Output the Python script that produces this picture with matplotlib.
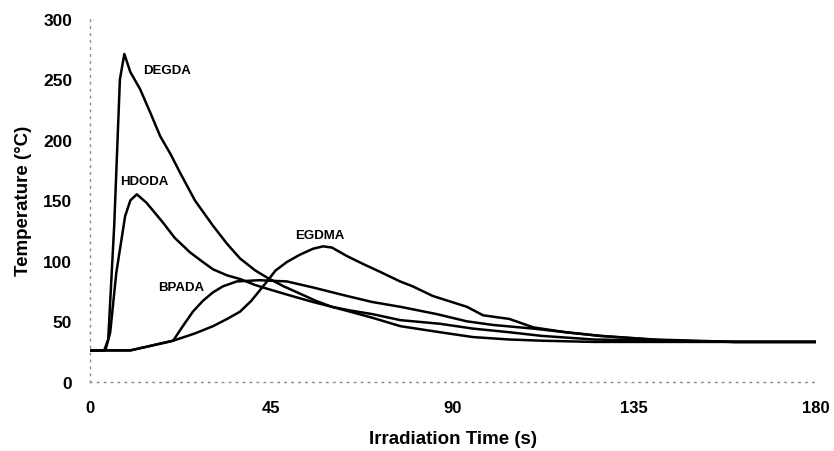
import matplotlib
matplotlib.use("Agg")
import matplotlib.pyplot as plt

plt.rcParams['font.family'] = ['Liberation Sans', 'DejaVu Sans']

# Data
degda_t = [0, 3.5, 4.5, 6, 7.4, 8.5, 10, 12.4, 15, 17.4, 20, 22.3, 26, 30.5, 34, 37.2, 41, 44, 48, 52, 56, 60, 64.5, 70, 77, 86.8, 95, 104, 112, 125, 140, 160, 180]
degda_T = [26, 26, 35, 130, 250, 271, 256, 242, 222, 203, 188, 173, 150, 129, 114, 102, 92, 86, 79, 73, 67, 62, 58, 53, 46, 41, 37, 35, 34, 33, 33, 33, 33]

hdoda_t = [0, 3.8, 5, 6.5, 8.7, 10, 11.6, 14, 18, 21, 24.8, 28, 30.5, 34, 37.2, 41, 43.9, 50, 55.3, 60, 64.5, 70, 77, 86.8, 95, 104, 112, 125, 140, 160, 180]
hdoda_T = [26, 26, 41, 90, 137, 150, 155, 148, 132, 119, 107, 99, 93, 88, 85, 80, 77, 71, 66, 62, 59, 56, 51, 48, 44, 41, 38, 35, 34, 33, 33]

egdma_t = [0, 10, 14, 20.6, 26, 30.5, 34, 37.2, 40, 43.9, 46, 48.8, 52, 55.3, 57.8, 60, 63.7, 68, 71.9, 76.9, 80, 85, 93.5, 97.5, 104, 110, 118, 126.5, 143, 160, 180]
egdma_T = [26, 26, 29, 34, 40, 46, 52, 58, 67, 83, 92, 99, 105, 110, 112, 111, 104, 97, 91, 83, 79, 71, 62, 55, 52, 45, 41, 38, 34, 33, 33]

bpada_t = [0, 10, 14, 20.6, 23, 25.5, 28, 30.5, 33, 36.4, 42, 48.8, 55.3, 63.7, 70, 77, 80, 86, 93.5, 100, 110, 118, 126.5, 140, 160, 180]
bpada_T = [26, 26, 29, 34, 46, 58, 67, 74, 79, 83, 84, 83, 78, 71, 66, 62, 60, 56, 50, 47, 44, 41, 38, 35, 33, 33]

series = [
    ("DEGDA", degda_t, degda_T),
    ("HDODA", hdoda_t, hdoda_T),
    ("EGDMA", egdma_t, egdma_T),
    ("BPADA", bpada_t, bpada_T),
]

labels = [("DEGDA", 13.1, 258), ("HDODA", 7.4, 166), ("EGDMA", 50.8, 121), ("BPADA", 16.9, 78)]

xticks = [0, 45, 90, 135, 180]
yticks = [0, 50, 100, 150, 200, 250, 300]

fig = plt.figure(figsize=(8.34, 4.52), dpi=100)
ax = fig.add_axes([0.108, 0.153, 0.870, 0.803])

for name, t, T in series:
    ax.plot(t, T, color='black', linewidth=1.8, solid_joinstyle='round')

for text, x, y in labels:
    ax.text(x, y, text, fontsize=9.5, fontweight='bold', ha='left', va='center')

ax.set_xlim(0, 180)
ax.set_ylim(0, 300)
ax.set_xticks(xticks)
ax.set_yticks(yticks)
ax.tick_params(axis='y', length=0, labelsize=12.5, pad=13)
ax.tick_params(axis='x', length=0, labelsize=12, pad=13)
for lab in ax.get_xticklabels() + ax.get_yticklabels():
    lab.set_fontweight('bold')

ax.spines['top'].set_visible(False)
ax.spines['right'].set_visible(False)
for s in ['left', 'bottom']:
    ax.spines[s].set_linestyle((0, (1, 4)))
    ax.spines[s].set_color('#888888')
    ax.spines[s].set_linewidth(1.0)

ax.set_xlabel('Irradiation Time (s)', fontsize=13.5, fontweight='bold', labelpad=11)
ax.set_ylabel('Temperature (°C)', fontsize=13.5, fontweight='bold', labelpad=8)

fig.savefig('out.png', dpi=100)
